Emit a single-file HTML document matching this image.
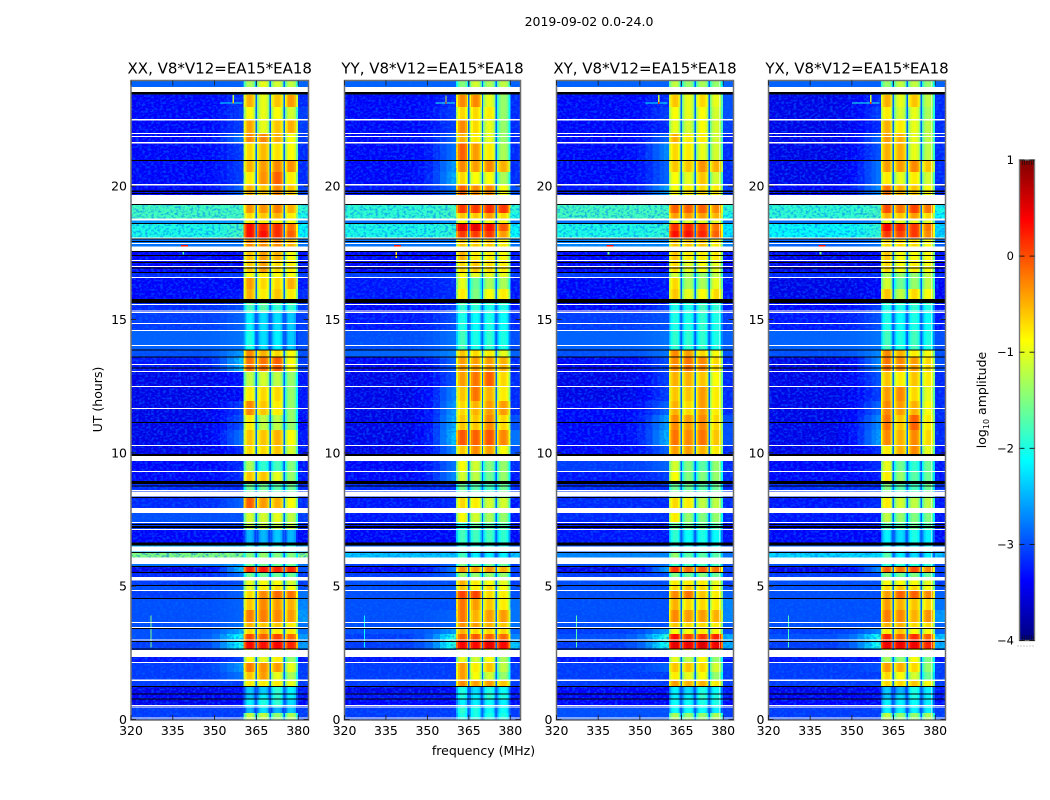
<!DOCTYPE html>
<html lang="en"><head><meta charset="utf-8"><title>2019-09-02 dynamic spectra</title>
<style>
html,body{margin:0;padding:0;background:#fff;width:1050px;height:800px;overflow:hidden}
svg{display:block}
text{font-family:"DejaVu Sans","Liberation Sans",sans-serif;fill:#000}
</style></head>
<body>
<svg id="chart" xmlns="http://www.w3.org/2000/svg" width="1050" height="800" viewBox="0 0 1050 800">
<defs>
<filter id="speckle" x="0" y="0" width="100%" height="100%" color-interpolation-filters="sRGB">
<feTurbulence type="fractalNoise" baseFrequency="0.33 0.45" numOctaves="2" seed="4"/>
<feColorMatrix type="matrix" values="0 0 0 0 0  0 0 0 0 0.42  0 0 0 0 1  3.6 0 0 0 -1.6"/>
</filter>
<linearGradient id="jet-gradient" x1="0" y1="1" x2="0" y2="0"></linearGradient>
</defs>
<rect width="1050" height="800" fill="#fff"/>
<text x="589" y="26" font-size="12.5" text-anchor="middle">2019-09-02 0.0-24.0</text>
<text x="483.5" y="755" font-size="12.5" text-anchor="middle">frequency (MHz)</text>
<text transform="translate(102,399.5) rotate(-90)" font-size="12.5" text-anchor="middle">UT (hours)</text>
<text transform="translate(986,400) rotate(-90)" font-size="12.5" text-anchor="middle">log<tspan font-size="8" dy="3">10</tspan><tspan dy="-3"> amplitude</tspan></text>
<g id="panels"></g>
<g id="colorbar"></g>
</svg>
<script>
const panelTitles = ["XX, V8*V12=EA15*EA18","YY, V8*V12=EA15*EA18","XY, V8*V12=EA15*EA18","YX, V8*V12=EA15*EA18"];
const xTicks = [320,335,350,365,380];
const yTicks = [0,5,10,15,20];
const colorTicks = [1,0,-1,-2,-3,-4];
const colorbarMinorTicks = [0,1,2,3,4,5];
const subbandStartsMHz = [360.4,365,370,375];
const channelOffsets = [-0.55,-0.15,0,0.03,0,-0.15,-0.7];
const notchLevel = -2.9;
const backgroundChannels = [[320,345,0],[345,349,0.08],[349,352,0.2],[352,354.5,0.4],[354.5,357,0.65],[357,358.7,0.85],[358.7,360.4,1]];
const rowEdgesUT = [23.94,23.72,23.42,22.97,22.52,21.99,21.62,20.98,20.53,20.08,19.67,19.29,18.99,18.77,18.58,18.32,18.05,17.57,17.23,16.78,16.55,16.14,15.77,15.54,15.24,14.60,13.85,13.59,13.07,12.50,11.94,11.42,10.85,10.29,9.88,9.28,8.91,8.57,8.34,7.93,7.41,7.11,6.62,6.24,6.06,5.76,5.53,5.34,5.01,4.82,4.56,4.11,3.66,3.43,3.21,2.98,2.64,2.34,2.12,1.78,1.48,1.26,0.99,0.77,0.47,0.24,0];
// each row: background, shoulder, subband 1-4 peak, right edge (log10 amplitude)
const amplitudeXX = [
[-2.9,-2.9,-1.3,-1,-1.1,-1.2,-2.9],[-3.2,-3,-1,-1,-1,-1.1,-3],[-3.4,-3.2,-.5,-1,-.6,-.4,-3.2],[-3.4,-3.1,-.9,-1,-.9,-1.1,-3.1],[-3.4,-3.1,-.45,-1,-.6,-.5,-3.1],
[-3.4,-2.8,-.3,-.3,-.5,-.9,-3.1],[-3.4,-3.1,-.7,-.55,-.75,-.9,-3.2],[-3.4,-3.1,-.5,-.4,-.3,-.35,-3.2],[-3.4,-3.1,-.8,-.35,-.1,-.8,-3.2],[-3.4,-2.9,-.5,-.6,-.3,-.6,-3.1],
[-1.8,-1.8,-.35,-.35,-.25,-.5,-1.9],[-1.8,-1.8,-.35,-.35,-.25,-.5,-1.9],[-1.8,-1.8,-.7,-.6,-.5,-.8,-2],[-2.6,-2.6,-.8,-.8,-.8,-.9,-2.6],[-2,-1.8,.3,.2,.15,-.2,-2.1],
[-2,-1.8,.3,.3,.15,-.1,-2.1],[-2.8,-2.8,-.3,-.3,-.3,-.5,-2.8],[-3.4,-3.4,-.6,-.4,-.5,-.9,-3.3],[-3.4,-3.4,-.6,-.4,-.7,-.8,-3.3],[-3.2,-3.1,-.9,-.8,-.9,-.9,-3.1],
[-3.4,-3.4,-.4,-.7,-.7,-.5,-3.3],[-3.4,-3.3,-.5,-.8,-.6,-.8,-3.2],[-3.2,-3.2,-1.6,-1.6,-1.7,-1.7,-3.1],[-3.2,-3,-1.8,-1.7,-1.9,-1.9,-3.1],[-3.1,-2.9,-2.2,-2.3,-2.3,-2.4,-3.1],
[-2.9,-2.8,-2,-2.3,-2.2,-2.4,-3],[-3,-2.6,-.3,-.5,-.7,-.9,-3],[-3.3,-2.4,-.2,-.2,-.1,-.9,-3.1],[-3.5,-3.3,-1.2,-1.1,-1.2,-1.4,-3.3],[-3.5,-3.4,-.8,-.7,-.7,-1.4,-3.3],
[-3.5,-3.1,-.3,-.6,-.8,-1.4,-3.3],[-3.5,-3,-.8,-1.2,-1.2,-1.4,-3.4],[-3.5,-2.8,-.6,-.6,-.5,-.9,-3.3],[-3.5,-3.2,-.7,-.7,-.6,-1.1,-3.3],[-3.4,-3.2,-1.3,-1.9,-1.8,-1.5,-3.3],
[-3.4,-3.2,-.6,-.6,-1,-1.4,-3.3],[-3.2,-3.2,-1.6,-1.6,-1.7,-1.6,-3.2],[-3.2,-3.2,-1.6,-1.6,-1.7,-1.6,-3.2],[-3.2,-2.9,-.1,-.4,-.5,-.9,-3.2],[-3,-3,-1.1,-1.1,-1,-1.2,-3.1],
[-3.1,-3.1,-1.2,-1.2,-1.2,-1.2,-3.2],[-3.4,-3.4,-2.5,-2.5,-2.4,-2.5,-3.4],[-2.5,-2.5,-2,-2,-2,-2,-2.5],[-1.5,-1.5,-1.5,-1.4,-1.5,-1.5,-1.5],[-2.8,-2.6,-1.6,-1.6,-1.6,-1.6,-2.8],
[-3.5,-2.4,.2,.25,.2,.2,-3],[-3.2,-2.8,-1.6,-1.6,-1.6,-1.6,-3.1],[-3.1,-3,-1,-.9,-.9,-1.1,-3.1],[-3,-2.9,-1,-.8,-.7,-.9,-3],[-3.1,-2.9,-.7,-.3,-.15,-.2,-2.8],
[-3,-2.9,-.6,-.3,-.4,-.5,-2.7],[-3,-2.9,-.25,-.25,-.3,-.4,-2.6],[-3,-2.8,-.5,-.6,-.6,-.8,-2.8],[-3,-2.5,-.7,-.5,-.8,-.8,-2.8],[-3,-2,0,-.1,.05,-.15,-2.6],
[-3.1,-2,.35,.3,.4,.2,-2.6],[-3.1,-2.6,-.8,-.8,-.8,-.9,-3.1],[-3.3,-3.1,-.9,-1,-.8,-1.4,-3.3],[-3.1,-2.6,-.25,-.35,-.4,-1,-3.1],[-3.1,-2.8,-.6,-.4,-1,-1.3,-3.1],
[-3.1,-3.1,-.8,-.8,-.8,-1,-3.1],[-3.5,-3.4,-2.4,-2.4,-1.9,-2.2,-3.3],[-3.4,-3.3,-2.4,-2.2,-1.9,-2.2,-3.3],[-3.5,-3.4,-2.2,-2,-1.9,-2.3,-3.4],[-3.1,-3.1,-2.5,-2.3,-2.5,-2.4,-3.1],
[-3.1,-3.1,-1.2,-1.2,-1.4,-1.3,-3.1]];
const amplitudeYY = [
[-2.9,-2.9,-1.5,-1.1,-1.3,-1.2,-2.9],[-3.2,-3.1,-.8,-.8,-1.2,-1.3,-3.1],[-3.4,-3.2,-.3,-.3,-1,-1.4,-3.2],[-3.4,-3.1,-.7,-.7,-.8,-1.4,-3.2],[-3.4,-3.1,-.3,-.7,-1,-1.4,-3.2],
[-3.4,-2.9,-.5,-.8,-1,-1.4,-3.2],[-3.4,-2.8,-.1,-.4,-.8,-1.3,-3.2],[-3.4,-2.6,-.3,-.4,-.3,-.5,-3.2],[-3.4,-2.5,-.7,-.9,-.9,-1.3,-3.2],[-3.3,-2.8,-.1,-.3,-.3,-.9,-3],
[-1.9,-1.8,.1,.1,.15,.1,-1.9],[-1.9,-1.8,.1,.1,.15,.1,-1.9],[-1.9,-1.8,-.6,-.6,-.4,-.7,-2],[-2.8,-2.6,-.9,-.9,-.9,-.9,-2.8],[-2,-1.9,.5,.5,.3,-.05,-2.1],
[-2,-1.9,.1,.1,.1,-.4,-2.1],[-2.8,-2.8,-.6,-.6,-.6,-.8,-2.8],[-3.4,-3.4,-.5,-.8,-.8,-.9,-3.3],[-3.4,-3.4,-.7,-.6,-.7,-.8,-3.3],[-3.1,-3,-.9,-1,-1,-1,-3.1],
[-3.3,-3.2,-1,-1.6,-1.3,-1.3,-3.3],[-3.3,-3.2,-.8,-1.5,-.9,-.8,-3.3],[-3.4,-3.3,-1.7,-1.7,-1.8,-1.8,-3.3],[-3.4,-3.1,-1.9,-1.9,-2,-2,-3.3],[-3.3,-3,-2,-2.1,-2,-2.1,-3.2],
[-3,-2.8,-1.8,-2,-1.9,-2,-3],[-2.9,-2.7,-.6,-.7,-.8,-1,-2.9],[-3.4,-2.9,-.4,-.4,-.4,-.5,-3.2],[-3.5,-3,-.4,-.2,-.1,-.7,-3.2],[-3.5,-2.7,-.6,-.2,-.5,-.8,-3.2],
[-3.5,-2.6,-.7,-.5,-.4,-.4,-3.2],[-3.5,-2.5,-.6,-.6,-.3,-.7,-3],[-3.5,-2.4,-.05,-.1,-.05,-.3,-2.8],[-3.5,-2.7,-.6,-.3,-.4,-.9,-3],[-3.4,-2.8,-.9,-1.1,-1.5,-1.4,-3.2],
[-3.4,-2.7,-1.1,-1.2,-1.6,-1.4,-3.3],[-3.2,-3.2,-1.6,-1.7,-1.8,-1.6,-3.2],[-3.2,-3.2,-1.6,-1.7,-1.8,-1.6,-3.2],[-3.3,-3.2,-.7,-.8,-1.1,-1.1,-3.3],[-3.3,-3.3,-.9,-1.1,-1.3,-1.4,-3.3],
[-3.3,-3.3,-1.9,-1.6,-1.7,-1.7,-3.3],[-3.4,-3.4,-1.8,-1.8,-1.8,-1.9,-3.4],[-2.9,-2.9,-2,-2,-2,-2,-2.9],[-2.4,-2.4,-1.8,-2.2,-2.2,-2.2,-2.4],[-3.1,-2.9,-1.5,-1.6,-1.6,-1.6,-3.1],
[-3.4,-2.8,-.35,-.4,-.35,-.5,-3.1],[-3.1,-2.9,-1.4,-1.4,-1.4,-1.4,-3.1],[-3,-3,-.5,-.8,-.9,-1,-3.1],[-3,-2.9,-.6,-.8,-.7,-.9,-3],[-3,-3,.05,.05,-.7,-.8,-3],
[-3,-3,-.2,-.4,-.6,-.8,-2.8],[-3,-2.9,-.2,-.5,-.4,-.4,-2.8],[-3,-2.9,-.35,-.4,-.5,-.6,-2.8],[-3,-2.6,-.5,-.7,-.7,-.7,-2.9],[-3.1,-1.9,-.1,-.05,-.1,-.15,-2.7],
[-3.1,-1.9,.4,.35,.5,.35,-2.4],[-3.1,-2.7,-.9,-.9,-.9,-1,-3.1],[-3.3,-3.3,-1,-1.1,-.9,-1.3,-3.3],[-3.1,-3.1,-.4,-.8,-.6,-1.2,-3.1],[-3.1,-3.1,-.4,-.9,-1.1,-1.4,-3.1],
[-3.1,-3,-.3,-.4,-.4,-.6,-3.1],[-3.5,-3.4,-2,-2.3,-2,-2.1,-3.3],[-3.3,-3.3,-2,-2.2,-1.9,-2,-3.3],[-3.4,-3.4,-2.2,-2.2,-2.1,-2.2,-3.4],[-3.1,-3.1,-1.9,-2,-2.1,-2.1,-3.1],
[-3.1,-3.1,-2,-2,-2,-2,-3.1]];
const amplitudeXY = [
[-2.9,-2.9,-1.2,-1.4,-1.3,-1.4,-2.9],[-3.2,-3.1,-1,-1,-1,-1.1,-3.1],[-3.4,-3.2,-.6,-1,-.7,-1,-3],[-3.4,-3.1,-.9,-1,-.9,-1.1,-3],[-3.4,-3.2,-1,-1.1,-.9,-1.1,-3.1],
[-3.4,-2.9,-.5,-.8,-.8,-1.1,-3.2],[-3.4,-2.7,-.7,-.8,-1,-1.1,-3.2],[-3.4,-2.9,-.6,-.6,-.35,-.5,-3.2],[-3.4,-2.9,-.9,-1,-.6,-1.1,-3.2],[-3.3,-2.6,-.9,-.8,-.7,-.8,-3.1],
[-1.8,-1.8,-.1,-.1,-.1,-.3,-1.9],[-1.8,-1.8,-.1,-.1,-.1,-.3,-1.9],[-1.8,-1.8,-.4,-.4,-.4,-.5,-2],[-2.8,-2.7,-1,-1,-1,-1,-2.8],[-2,-1.9,.15,.2,.1,-.2,-2.2],
[-2,-1.9,.3,.3,.2,-.1,-2.2],[-2.7,-2.7,-.6,-.6,-.6,-.8,-2.7],[-3.4,-3.3,-.6,-.8,-.8,-.8,-3.3],[-3.4,-3.4,-.7,-1,-.9,-1,-3.4],[-3.1,-3.1,-1.1,-1.3,-1.4,-1.2,-3.1],
[-3.4,-3.3,-.7,-1.3,-1.3,-1,-3.3],[-3.4,-3.3,-.6,-1,-.9,-.7,-3.3],[-3.4,-3.3,-1.9,-1.9,-1.9,-1.9,-3.3],[-3.4,-3.1,-2,-2,-1.8,-1.9,-3.3],[-3.1,-3,-2,-2,-1.9,-2,-3.1],
[-2.9,-2.8,-1.9,-1.9,-1.9,-2,-2.9],[-3,-2.8,-.3,-.4,-.7,-.9,-3],[-3.4,-3,-.3,-.2,-.3,-.7,-3.2],[-3.5,-3.1,-.5,-.5,-.6,-.9,-3.2],[-3.5,-3.1,-.6,-.6,-.4,-.8,-3.2],
[-3.4,-2.9,-.5,-.7,-.4,-.8,-3.2],[-3.4,-2.6,-.3,-.4,-.3,-.7,-3],[-3.4,-2.5,-.2,-.3,-.2,-.6,-3],[-3.4,-2.9,-.4,-.4,-.5,-.8,-3.2],[-3.1,-2.9,-1.1,-1.5,-1.7,-1.4,-3.2],
[-3.3,-3.1,-.9,-1.5,-1.5,-1.4,-3.2],[-3.2,-3.2,-1.6,-1.6,-1.7,-1.6,-3.2],[-3.2,-3.2,-1.6,-1.6,-1.7,-1.6,-3.2],[-3.2,-3.2,-.7,-.8,-1.2,-1.2,-3.2],[-3.2,-3.2,-.8,-1.4,-1.5,-1.4,-3.2],
[-3.3,-3.3,-1.6,-1.6,-1.6,-1.7,-3.3],[-3.3,-3.3,-1.9,-2.1,-2,-2.1,-3.3],[-3,-3,-2.1,-2.1,-2.1,-2.1,-3],[-2.7,-2.7,-1.4,-1.7,-1.7,-1.7,-2.8],[-3,-2.8,-1.8,-1.8,-1.8,-1.8,-3],
[-3.5,-2.6,.1,-.15,-.05,-.2,-3.1],[-3.1,-3,-1.5,-1.6,-1.5,-1.6,-3.1],[-3,-3,-.8,-.8,-.8,-1,-3.1],[-3,-3,-.7,-.6,-.7,-.9,-3],[-3,-3,-.3,-.2,-.6,-.8,-2.9],
[-3,-3,-.5,-.7,-.7,-.8,-2.7],[-3,-3,-.3,-.4,-.4,-.5,-2.7],[-3,-3,-.6,-.7,-.7,-.8,-2.9],[-3.1,-2.6,-.9,-.9,-.8,-.9,-3],[-3,-1.9,.3,.05,.1,.2,-2.5],
[-3.1,-2,.5,.45,.55,.45,-2.5],[-3.1,-2.7,-.9,-.9,-.9,-1,-3.1],[-3.3,-3.3,-1,-1.2,-.9,-1.4,-3.3],[-3.1,-2.9,-.6,-.6,-.7,-1.1,-3.1],[-3.1,-3.1,-.8,-1,-.9,-1.4,-3.1],
[-3.1,-3.1,-.4,-.5,-.5,-.8,-3.1],[-3.4,-3.4,-2.2,-2.3,-2,-2.1,-3.3],[-3.4,-3.4,-2.2,-2.2,-1.9,-2,-3.3],[-3.4,-3.4,-2.1,-2.1,-2,-2,-3.4],[-3,-3,-2.1,-2.1,-2.1,-2.2,-3.1],
[-3,-3,-1.3,-1.4,-1.4,-1.3,-3.1]];
const amplitudeYX = [
[-2.9,-2.9,-1.4,-1.2,-1.2,-1.4,-2.9],[-3.2,-3.1,-1,-1,-1,-1.2,-3.1],[-3.5,-3.2,-.5,-1,-.6,-1.2,-3.2],[-3.5,-3.1,-.8,-1.1,-1,-1.3,-3.2],[-3.5,-3.2,-.5,-.8,-1,-1.2,-3.2],
[-3.5,-2.9,-.4,-.5,-1,-1.2,-3.2],[-3.5,-3,-.5,-.5,-1,-1.2,-3.2],[-3.5,-2.8,-.4,-.4,-.3,-.6,-3.2],[-3.5,-2.8,-.8,-1,-.8,-1.1,-3.2],[-3.4,-2.7,-.2,-.5,-.6,-.9,-3.2],
[-1.9,-1.8,0,-.2,.05,-.2,-2],[-1.9,-1.8,0,-.2,.05,-.2,-2],[-1.9,-1.8,-.5,-.6,-.4,-.7,-2.1],[-2.8,-2.7,-1,-1,-1,-1,-2.8],[-2.1,-1.9,.35,.2,.1,-.2,-2.3],
[-2.1,-1.9,.1,.05,.1,-.3,-2.3],[-2.9,-2.8,-.7,-.7,-.7,-.9,-2.9],[-3.5,-3.4,-.6,-.9,-.9,-.9,-3.3],[-3.5,-3.5,-.7,-.9,-.8,-.9,-3.4],[-3.2,-3.2,-1.3,-1.4,-1.4,-1.2,-3.2],
[-3.5,-3.4,-1.1,-1.6,-1.4,-1.2,-3.4],[-3.5,-3.4,-.6,-1.2,-.7,-.9,-3.4],[-3.4,-3.3,-1.8,-1.8,-1.8,-1.8,-3.3],[-3.4,-3.1,-2,-2,-1.9,-2,-3.3],[-3.3,-3,-2,-2.1,-2,-2.1,-3.3],
[-2.9,-2.8,-1.8,-2,-1.8,-2,-3],[-3,-2.7,-.3,-.5,-.8,-.9,-3],[-3.5,-2.7,-.2,-.3,-.4,-.7,-3],[-3.5,-3,-.6,-.8,-.6,-.8,-3.2],[-3.5,-3.1,-.4,-.3,-.7,-1,-3.2],
[-3.5,-2.9,-.3,-.4,-.5,-.9,-3.2],[-3.5,-2.7,-.2,-.6,-.1,-.8,-3.2],[-3.5,-2.6,-.3,-.5,-.3,-.7,-3.2],[-3.5,-3.2,-.8,-.5,-.3,-1,-3.3],[-3.4,-3.2,-1,-1.6,-1.9,-1.6,-3.3],
[-3.4,-3.3,-.8,-1.4,-1.7,-1.6,-3.3],[-3.2,-3.2,-1.5,-1.7,-1.8,-1.6,-3.2],[-3.2,-3.2,-1.5,-1.7,-1.8,-1.6,-3.2],[-3.3,-3.2,-.8,-1.1,-1.2,-1.2,-3.3],[-3.3,-3.3,-1.2,-1.4,-1.5,-1.5,-3.3],
[-3.3,-3.3,-1.7,-1.7,-1.6,-1.7,-3.3],[-3.4,-3.4,-2.2,-2.3,-2,-2.2,-3.4],[-2.9,-2.9,-2.2,-2.2,-2.2,-2.2,-2.9],[-2.3,-2.3,-1.7,-2.2,-2.3,-2.2,-2.4],[-3,-2.8,-1.9,-1.9,-1.9,-1.9,-3],
[-3.5,-2.7,-.1,-.2,0,-.3,-3.1],[-3.1,-3,-1.5,-1.6,-1.5,-1.6,-3.1],[-3,-3,-.9,-.9,-.9,-1,-3.1],[-3,-3,-.7,-.6,-.7,-.9,-3],[-3,-3,-.4,-.1,-.1,-.3,-2.9],
[-3,-3,-.4,-.5,-.6,-.7,-2.8],[-3,-3,-.25,-.3,-.5,-.35,-2.6],[-3,-3,-.5,-.5,-.7,-.7,-2.9],[-3.1,-2.7,-.8,-.6,-.9,-.9,-2.9],[-3,-2,.2,-.1,.15,-.1,-2.4],
[-3.1,-2,.45,.45,.45,.2,-2.5],[-3.1,-2.8,-1,-1,-1,-1.1,-3.1],[-3.3,-3.3,-1.3,-1.4,-.9,-1.5,-3.3],[-3.1,-3,-.4,-.5,-.7,-1.4,-3.1],[-3.1,-3.1,-.7,-.9,-1.1,-1.6,-3.1],
[-3.1,-3.1,-.7,-.7,-.6,-.9,-3.1],[-3.5,-3.4,-2.4,-2.5,-2,-2.2,-3.3],[-3.4,-3.3,-2.4,-2.3,-2,-2.2,-3.3],[-3.4,-3.4,-2.2,-2.2,-2.1,-2.2,-3.4],[-3.1,-3.1,-2.2,-2.2,-2.2,-2.2,-3.1],
[-3.1,-3.1,-1.2,-1.4,-1.4,-1.3,-3.1]];
// flagged (no data) UT intervals
const flaggedUT = [[23.716,23.528],[22.516,22.46],[21.991,21.953],[21.878,21.841],[21.653,21.605],[20.078,20.03],[19.666,19.329],[18.785,18.71],[18.073,18.042],[17.867,17.829],[17.728,17.566],[17.229,17.192],[17.004,16.966],[16.592,16.554],[15.579,15.542],[15.343,15.306],[15.279,15.242],[14.867,14.829],[14.604,14.567],[14.042,14.004],[13.329,13.292],[13.067,13.029],[12.505,12.467],[11.68,11.642],[10.292,10.255],[9.88,9.692],[9.318,9.28],[8.605,8.567],[8.549,8.361],[7.93,7.743],[7.405,7.368],[7.143,7.105],[6.479,6.307],[6.067,5.83],[5.343,5.212],[4.856,4.818],[3.656,3.618],[3.468,3.431],[3.007,2.97],[2.606,2.343],[2.156,2.118],[1.5,1.444],[0.544,0.506],[0.487,0.45],[0.082,0.045]];
// zero-amplitude (below colour range) UT intervals
const blankUT = [[23.528,23.434],[20.979,20.941],[19.835,19.778],[19.741,19.704],[19.329,19.291],[18.616,18.586],[18.035,17.998],[17.949,17.911],[17.566,17.529],[17.416,17.379],[17.154,17.116],[16.948,16.91],[16.779,16.741],[15.767,15.617],[13.873,13.843],[13.618,13.581],[13.198,13.161],[11.154,11.117],[9.955,9.88],[8.942,8.83],[8.766,8.729],[8.343,8.305],[7.33,7.293],[7.255,7.18],[6.637,6.517],[6.28,6.243],[5.755,5.718],[5.531,5.493],[5.043,5.006],[4.556,4.518],[3.431,3.393],[2.943,2.906],[2.662,2.625],[1.256,1.219],[0.982,0.945],[0.795,0.757]];
// narrow RFI features: panel index, MHz start, MHz end, UT start, UT end, level
const rfiFeatures = [
[0,352,360,23.1,23.14,-2.2],[1,353,360,23.1,23.14,-2],[2,352,360,23.1,23.14,-2.1],[3,350,360,23.1,23.14,-2],
[0,356.5,357,23.1,23.42,-1.2],[1,356.5,357,23.08,23.4,-1.1],[2,356.5,357,23.08,23.42,-1.1],[3,356.5,357,23.08,23.42,-1.1],
[0,356.5,357,23.1,23.18,-.5],[1,356.5,357,23.08,23.16,.2],[2,356.5,357,23.08,23.16,.2],[3,356.5,357,23.08,23.16,.2],
[0,338,340.5,17.74,17.79,.3],[1,338,340.5,17.74,17.79,.3],[2,338,340.5,17.74,17.79,.3],[3,338,340.5,17.74,17.79,.3],
[0,338.4,339,17.44,17.52,-1.8],[1,338.4,339,17.3,17.52,-.8],[2,338.4,339,17.44,17.52,-1.6],[3,338.4,339,17.44,17.52,-1.6],
[0,327,327.4,2.7,3.9,-1.5],[1,327,327.4,2.7,3.9,-2.1],[2,327,327.4,2.7,3.9,-1.7],[3,327,327.4,2.7,3.9,-1.8]];

const SVG_NS = 'http://www.w3.org/2000/svg';
const panelAmplitudes = [amplitudeXX, amplitudeYY, amplitudeXY, amplitudeYX];
const panelFrames = [[131,308.5],[344.5,520.5],[556.5,733.5],[768.5,945.5]];
const X_MIN = 320, X_MAX = 383.7, UT_MAX = 23.94;
const PLOT_TOP = 81, PLOT_BOTTOM = 719.5;
const LEVEL_MIN = -4, LEVEL_MAX = 1;
const CB_LEFT = 1019.5, CB_RIGHT = 1034.5, CB_TOP = 160, CB_BOTTOM = 640.5;

function clamp01(v){ return Math.max(0, Math.min(1, v)); }
function jet(level){
  const t = clamp01((level - LEVEL_MIN) / (LEVEL_MAX - LEVEL_MIN));
  const r = clamp01(1.5 - Math.abs(4*t - 3));
  const g = clamp01(1.5 - Math.abs(4*t - 2));
  const b = clamp01(1.5 - Math.abs(4*t - 1));
  return 'rgb(' + Math.round(r*255) + ',' + Math.round(g*255) + ',' + Math.round(b*255) + ')';
}
function xScale(p, mhz){ const f = panelFrames[p]; return f[0] + (mhz - X_MIN) / (X_MAX - X_MIN) * (f[1] - f[0]); }
function yScale(ut){ return PLOT_BOTTOM - ut / UT_MAX * (PLOT_BOTTOM - PLOT_TOP); }
function colorScale(level){ return CB_BOTTOM - (level - LEVEL_MIN) / (LEVEL_MAX - LEVEL_MIN) * (CB_BOTTOM - CB_TOP); }
function make(tag, attrs, parent){
  const el = document.createElementNS(SVG_NS, tag);
  for (const k in attrs) el.setAttribute(k, attrs[k]);
  parent.appendChild(el);
  return el;
}
function addCell(group, p, mhz0, mhz1, ut0, ut1, level){
  const x0 = xScale(p, mhz0), x1 = xScale(p, mhz1), y0 = yScale(ut0), y1 = yScale(ut1);
  const cell = make('rect', {x:x0.toFixed(2), y:y0.toFixed(2), width:(x1-x0).toFixed(2), height:(y1-y0).toFixed(2), fill:jet(level)}, group);
  
  
}
const panelsGroup = document.getElementById('panels');
panelFrames.forEach(function(frame, p){
  const g = make('g', {}, panelsGroup);
  
  
  const cells = make('g', {'shape-rendering':'crispEdges'}, g);
  
  
  const rows = panelAmplitudes[p];
  rows.forEach(function(row, r){
    const top = rowEdgesUT[r], bottom = rowEdgesUT[r+1];
    backgroundChannels.forEach(function(ch){
      addCell(cells, p, ch[0], ch[1], top, bottom, row[0] + (row[1]-row[0])*ch[2]);
    });
    subbandStartsMHz.forEach(function(start, s){
      const end = s < 3 ? subbandStartsMHz[s+1] : 380;
      const w = (end - start) / channelOffsets.length;
      channelOffsets.forEach(function(off, c){
        addCell(cells, p, start + c*w, start + (c+1)*w, top, bottom, row[2+s] + off);
      });
      if (s > 0) addCell(cells, p, start - 0.3, start + 0.2, top, bottom, notchLevel);
    });
    addCell(cells, p, 380, X_MAX, top, bottom, row[6]);
  });
  // receiver noise texture over the off-band channels
  const yT = yScale(UT_MAX), yB = yScale(0);
  const tex1 = make('rect', {x:xScale(p,X_MIN), y:yT, width:xScale(p,360.4)-xScale(p,X_MIN), height:yB-yT, filter:'url(#speckle)', opacity:0.55}, g);
  
  
  const tex2 = make('rect', {x:xScale(p,380), y:yT, width:xScale(p,X_MAX)-xScale(p,380), height:yB-yT, filter:'url(#speckle)', opacity:0.55}, g);
  
  
  const rfi = make('g', {'shape-rendering':'crispEdges'}, g);
  
  
  rfiFeatures.filter(function(f){ return f[0] === p; }).forEach(function(f){
    addCell(rfi, p, f[1], f[2], f[4], f[3], f[5]);
  });
  const flags = make('g', {'shape-rendering':'crispEdges'}, g);
  
  
  flaggedUT.forEach(function(iv){
    const y0 = yScale(iv[0]), y1 = yScale(iv[1]);
    const band = make('rect', {x:frame[0], y:y0.toFixed(2), width:frame[1]-frame[0], height:(y1-y0).toFixed(2), fill:'#fff'}, flags);
    
    
  });
  blankUT.forEach(function(iv){
    const y0 = yScale(iv[0]), y1 = yScale(iv[1]);
    const band = make('rect', {x:frame[0], y:y0.toFixed(2), width:frame[1]-frame[0], height:(y1-y0).toFixed(2), fill:'#000'}, flags);
    
    
  });
  const box = make('rect', {x:frame[0], y:80.5, width:frame[1]-frame[0], height:639.5, fill:'none', stroke:'#6e6e6e', 'stroke-width':1.5}, g);
  
  
  xTicks.forEach(function(t){
    const x = xScale(p, t);
    const bt = make('line', {x1:x, x2:x, y1:720, y2:715, stroke:'#222', 'stroke-width':0.9}, g);
    
    
    const tt = make('line', {x1:x, x2:x, y1:80.5, y2:85.5, stroke:'#222', 'stroke-width':0.9}, g);
    
    
    const lab = make('text', {x:x, y:735, 'font-size':12.5, 'text-anchor':'middle'}, g);
    lab.textContent = String(t);
    
    
  });
  yTicks.forEach(function(t){
    const y = yScale(t);
    const lt = make('line', {x1:frame[0], x2:frame[0]+5, y1:y, y2:y, stroke:'#222', 'stroke-width':0.9}, g);
    
    
    const rt = make('line', {x1:frame[1]-5, x2:frame[1], y1:y, y2:y, stroke:'#222', 'stroke-width':0.9}, g);
    
    
    const lab = make('text', {x:frame[0]-4, y:y+4.5, 'font-size':12.5, 'text-anchor':'end'}, g);
    lab.textContent = String(t);
    
    
  });
  const title = make('text', {x:(frame[0]+frame[1])/2, y:73.5, 'font-size':15, 'text-anchor':'middle'}, g);
  title.textContent = panelTitles[p];
  
  
});
// colour bar
const grad = document.getElementById('jet-gradient');
for (let i = 0; i <= 32; i++){
  make('stop', {offset:(i/32).toFixed(4), 'stop-color':jet(LEVEL_MIN + (LEVEL_MAX-LEVEL_MIN)*i/32)}, grad);
}
const cbGroup = document.getElementById('colorbar');
const cbRect = make('rect', {x:CB_LEFT, y:CB_TOP, width:CB_RIGHT-CB_LEFT, height:CB_BOTTOM-CB_TOP, fill:'url(#jet-gradient)', stroke:'#777', 'stroke-width':1.4}, cbGroup);


colorTicks.forEach(function(t){
  const y = colorScale(t);
  const l1 = make('line', {x1:CB_LEFT, x2:CB_LEFT+5, y1:y, y2:y, stroke:'#111', 'stroke-width':0.9}, cbGroup);
  
  
  const l2 = make('line', {x1:CB_RIGHT-5, x2:CB_RIGHT, y1:y, y2:y, stroke:'#111', 'stroke-width':0.9}, cbGroup);
  
  
  const lab = make('text', {x:1014, y:y+4, 'font-size':11.5, 'text-anchor':'end'}, cbGroup);
  lab.textContent = t < 0 ? '\u2212' + Math.abs(t) : String(t);
  
  
});
colorbarMinorTicks.forEach(function(i){
  const x = CB_LEFT + 3 + i * 2.2;
  const a = make('line', {x1:x, x2:x, y1:CB_TOP, y2:CB_TOP+5, stroke:'#111', 'stroke-width':0.6}, cbGroup);
  
  
  const b = make('line', {x1:x, x2:x, y1:CB_BOTTOM-5, y2:CB_BOTTOM, stroke:'#111', 'stroke-width':0.6}, cbGroup);
  
  
});
const dots = make('line', {x1:1017.5, x2:1035, y1:646, y2:646, stroke:'#999', 'stroke-width':1, 'stroke-dasharray':'1 2'}, cbGroup);


</script>
</body></html>
